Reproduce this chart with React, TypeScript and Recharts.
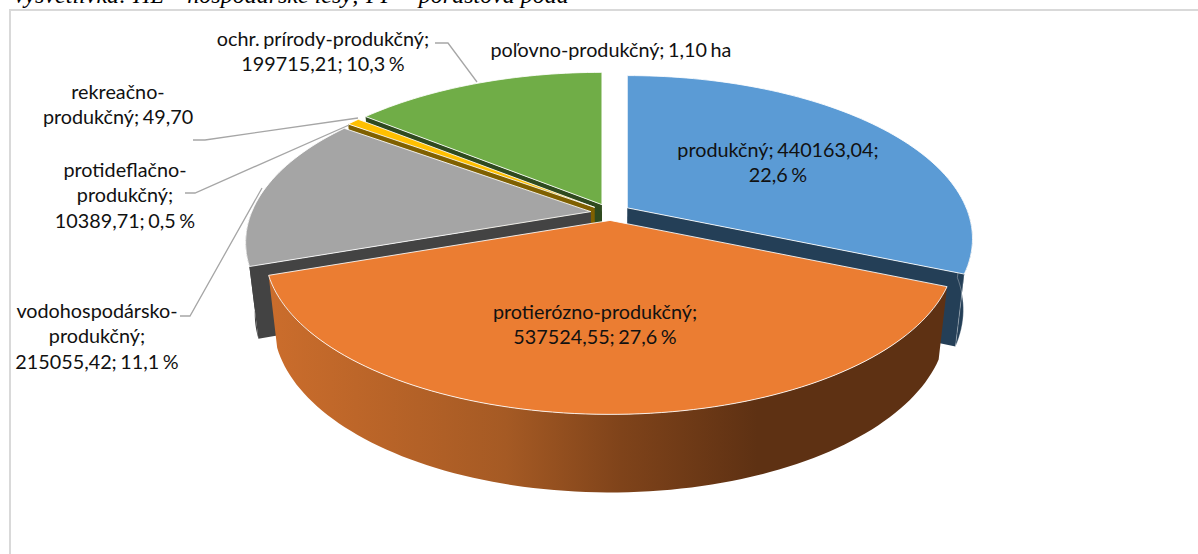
import React from "react";
import { PieChart, Pie, Cell } from "recharts";

// Data, listed counter-clockwise from the blue slice's far edge so nearer slices paint last.
const names = ["produkčný", "poľovno-produkčný", "ochr. prírody-produkčný", "rekreačno-produkčný", "protideflačno-produkčný", "vodohospodársko-produkčný", "protierózno-produkčný"];
const values = [440163.04, 1.1, 199715.21, 49.7, 10389.71, 215055.42, 537524.55];
const topColors = ["#5B9BD5", "#255E91", "#70AD47", "#4472C4", "#FFC000", "#A5A5A5", "#EB7D32"];
const wallColors = ["#243F57", "#163853", "#2F4A1F", "#29446F", "#7F6000", "#434343", "#5E3113"];
const explode = [20, 20, 20, 20, 20, 20, 16];
const labelLines = [
  ["produkčný; 440163,04;", "22,6 %"],
  ["poľovno-produkčný;  1,10 ha"],
  ["ochr. prírody-produkčný;", "199715,21; 10,3 %"],
  ["rekreačno-", "produkčný; 49,70"],
  ["protideflačno-", "produkčný;", "10389,71; 0,5 %"],
  ["vodohospodársko-", "produkčný;", "215055,42; 11,1 %"],
  ["protierózno-produkčný;", "537524,55; 27,6 %"],
];
const labelCenterX = [778, 611, 323, 118, 125, 97, 595];
const labelFirstY = [148.5, 48.5, 37.5, 90.5, 168.5, 309.5, 310.5];
const leaders: (number[][] | null)[] = [
  null,
  null,
  [[435, 43], [448, 43], [477, 82]],
  [[193, 140], [205, 140], [358, 118]],
  [[185, 193], [195, 193], [349, 125]],
  [[180, 316], [190, 316], [262, 188]],
  null,
];

const total = values.reduce((a, b) => a + b, 0);
const startAngle = 90 - (360 * values[0]) / total;

// Perspective model of the tilted disc
const TILT = 0.464;
const PERSP = 0.189;
const BOTTOM_X = 0.975;
const BOTTOM_Y = 0.04;
const DEPTH = 70;
const rad = (d: number) => (d * Math.PI) / 180;

function Slice(props: any) {
  const { cx, cy, outerRadius: R, startAngle: sa, endAngle: ea, index } = props;
  let t1 = 90 - ea;
  let t2 = 90 - sa;
  if (t1 < -1e-9) { t1 += 360; t2 += 360; }
  const mid = (t1 + t2) / 2;
  const e = explode[index];
  const ax = cx + e * Math.sin(rad(mid));
  const ay = cy - e * Math.cos(rad(mid)) * TILT;
  const rim = (t: number): [number, number] => {
    const s = Math.sin(rad(t));
    const c = Math.cos(rad(t));
    const k = 1 / (1 + PERSP * c);
    return [ax + R * s * k, ay - R * c * TILT * k];
  };
  const down = (p: number[]): [number, number] => [cx + (p[0] - cx) * BOTTOM_X, p[1] + DEPTH + (p[1] - cy) * BOTTOM_Y];
  const arc = (a: number, b: number) => {
    const n = Math.max(1, Math.ceil(Math.abs(b - a) / 1.5));
    return Array.from({ length: n + 1 }, (_, i) => rim(a + ((b - a) * i) / n));
  };
  const d = (pts: number[][]) => "M" + pts.map((p) => `${p[0].toFixed(2)},${p[1].toFixed(2)}`).join("L") + "Z";
  const apex: [number, number] = [ax, ay];
  const span = t2 - t1;
  const wall = wallColors[index];
  const parts: React.ReactNode[] = [];
  const edge = { stroke: "#fff", strokeOpacity: 0.45, strokeWidth: 0.7 };
  if (span > 0.1) {
    const cut = (t: number, key: string) => {
      const r = rim(t);
      parts.push(<path key={key} d={d([apex, r, down(r), down(apex)])} fill={wall} />);
    };
    if (Math.sin(rad(t1)) < -1e-6) cut(t1, "c1");
    if (Math.sin(rad(t2)) > 1e-6) cut(t2, "c2");
    const w1 = Math.max(t1, 90);
    const w2 = Math.min(t2, 270);
    if (w2 > w1) {
      const top = arc(w1, w2);
      const bottom = top.map(down).reverse();
      const isFront = w2 - w1 > 60;
      parts.push(<path key="o" d={d([...top, ...bottom])} fill={isFront ? "url(#frontWall)" : wall} {...(isFront || t1 > 180 ? {} : edge)} />);
    }
  }
  parts.push(
    <path key="t" d={d([apex, ...arc(t1, t2)])} fill={topColors[index]} stroke="#fff" strokeOpacity={span > 0.1 ? 0.85 : 0} strokeWidth={1} />
  );
  return <g>{parts}</g>;
}

function SliceLabel(props: any) {
  const i = props.index;
  const lines = labelLines[i];
  const lead = leaders[i];
  return (
    <g>
      {lead && <polyline points={lead.map((p) => p.join(",")).join(" ")} fill="none" stroke="#A6A6A6" strokeWidth={1.3} />}
      {lines.map((t, j) => (
        <text key={j} x={labelCenterX[i]} y={labelFirstY[i] + j * 25.6} textAnchor="middle" dominantBaseline="central" fontFamily="Lato" fontSize={19.8} wordSpacing={-1.5} fill="#111">
          {t}
        </text>
      ))}
    </g>
  );
}

const data = names.map((name, i) => ({ name, value: values[i] }));

export default function App() {
  return (
    <div style={{ position: "absolute", left: 0, top: 0, width: 1198, height: 554, overflow: "hidden", background: "#fff" }}>
      <div style={{ position: "absolute", left: 12, top: -18, fontFamily: "Liberation Serif", fontStyle: "italic", fontSize: 24, whiteSpace: "nowrap", color: "#000" }}>
        Vysvetlivka: HL – hospodárske lesy; PP – porastová pôda
      </div>
      <div style={{ position: "absolute", left: 9, top: 9, width: 1300, height: 700, borderLeft: "2px solid #D9D9D9", borderTop: "2px solid #D9D9D9" }} />
      <div style={{ position: "absolute", left: 0, top: 0 }}>
        <svg width={0} height={0} style={{ position: "absolute" }}>
          <defs>
            <linearGradient id="frontWall" x1="0" y1="0" x2="1" y2="0">
              <stop offset="0" stopColor="#CB6D2C" />
              <stop offset="0.35" stopColor="#A55A24" />
              <stop offset="0.52" stopColor="#7F431A" />
              <stop offset="0.72" stopColor="#5E3113" />
              <stop offset="1" stopColor="#5E3113" />
            </linearGradient>
          </defs>
        </svg>
        <PieChart width={1198} height={554} margin={{ top: 0, right: 0, bottom: 0, left: 0 }}>
          <Pie
            data={data}
            dataKey="value"
            nameKey="name"
            cx={610.6}
            cy={213}
            innerRadius={0}
            outerRadius={339}
            startAngle={startAngle}
            endAngle={startAngle + 360}
            paddingAngle={0}
            stroke="none"
            isAnimationActive={false}
            shape={Slice}
            label={SliceLabel}
            labelLine={false}
          >
            {data.map((_, i) => (
              <Cell key={i} fill={topColors[i]} />
            ))}
          </Pie>
        </PieChart>
      </div>
    </div>
  );
}
